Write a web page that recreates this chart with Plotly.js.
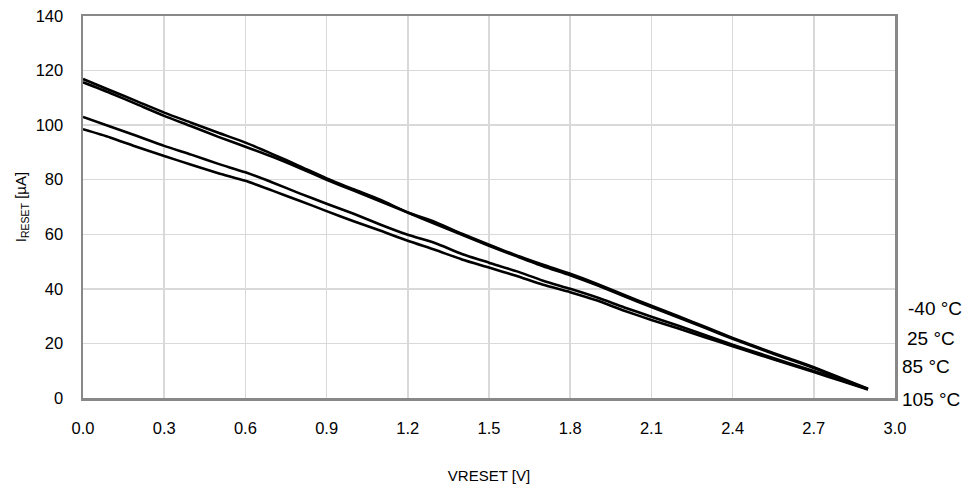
<!DOCTYPE html>
<html>
<head>
<meta charset="utf-8">
<script src="https://cdn.plot.ly/plotly-3.0.1.min.js"></script>
<style>html,body{margin:0;padding:0;background:#fff;}#chart{width:969px;height:487px;}</style>
</head>
<body>
<div id="chart"></div>
<script>
// Voltage (V)
const vreset = [0.0,0.1,0.2,0.3,0.4,0.5,0.6,0.7,0.8,0.9,1.0,1.1,1.2,1.3,1.4,1.5,1.6,1.7,1.8,1.9,2.0,2.1,2.2,2.3,2.4,2.5,2.6,2.7,2.8,2.9];
// Current (uA) per temperature
const iMinus40 = [116.9,112.8,108.7,104.6,100.9,97.2,93.6,89.4,85.0,80.5,76.5,72.6,68.0,64.5,60.2,56.2,52.3,48.8,45.5,41.8,37.8,33.8,30.0,26.0,22.0,18.3,14.8,11.3,7.3,3.4];
const i25 = [115.7,111.8,107.6,103.4,99.6,95.7,92.1,88.4,84.3,80.0,76.0,72.0,68.0,63.8,59.8,55.8,52.0,48.3,45.0,41.3,37.3,33.3,29.5,25.6,21.7,18.0,14.5,11.0,7.1,3.2];
const i85 = [103.0,99.5,96.0,92.4,89.2,85.8,82.7,79.0,75.0,71.2,67.5,63.5,59.8,56.8,52.8,49.6,46.5,43.0,40.0,36.8,33.2,29.8,26.5,23.0,19.5,16.3,13.0,9.9,6.6,3.3];
const i105 = [98.5,95.5,92.0,88.7,85.5,82.4,79.6,76.0,72.3,68.5,64.8,61.3,57.6,54.3,50.8,47.8,44.8,41.5,38.8,35.7,32.0,28.6,25.5,22.2,19.0,15.8,12.6,9.5,6.3,3.1];
const seriesLabels = ['-40 °C','25 °C','85 °C','105 °C'];
const xTickVals = [0.0,0.3,0.6,0.9,1.2,1.5,1.8,2.1,2.4,2.7,3.0];
const yTickVals = [0,20,40,60,80,100,120,140];

const allSeries = [iMinus40, i25, i85, i105];
const traces = allSeries.map((ys, k) => ({
  x: vreset, y: ys, type: 'scatter', mode: 'lines', name: seriesLabels[k],
  line: {color: '#000000', width: 2.6, shape: 'spline', smoothing: 0.6}, hoverinfo: 'skip'
}));

const labelY = [0.233, 0.155, 0.082, -0.004];
const labelX = [1.014, 1.012, 1.006, 1.006];
const annotations = seriesLabels.map((t, k) => ({
  text: t, xref: 'paper', yref: 'paper', x: labelX[k], y: labelY[k],
  xanchor: 'left', yanchor: 'middle', showarrow: false,
  font: {family: 'Liberation Sans, Arial, sans-serif', size: 19, color: '#000'}
}));

const layout = {
  width: 969, height: 487,
  margin: {l: 83, r: 74, t: 16, b: 89},
  paper_bgcolor: '#ffffff', plot_bgcolor: '#ffffff',
  showlegend: false,
  font: {family: 'Liberation Sans, Arial, sans-serif', color: '#000'},
  xaxis: {
    range: [0, 3], tickvals: xTickVals, ticktext: xTickVals.map(v => v.toFixed(1)),
    showgrid: true, gridcolor: '#d9d9d9', gridwidth: 1.5, zeroline: false,
    showline: true, mirror: true, linecolor: '#888888', linewidth: 2.5,
    ticks: 'outside', ticklen: 14, tickcolor: 'rgba(0,0,0,0)',
    tickfont: {size: 16.5, color: '#000'},
    title: {text: 'VRESET [V]', font: {size: 15, color: '#000'}, standoff: 34}
  },
  yaxis: {
    range: [0, 140], tickvals: yTickVals,
    showgrid: true, gridcolor: '#d9d9d9', gridwidth: 1.5, zeroline: false,
    showline: true, mirror: true, linecolor: '#888888', linewidth: 2.5,
    ticks: 'outside', ticklen: 14, tickcolor: 'rgba(0,0,0,0)',
    tickfont: {size: 16.5, color: '#000'},
    title: {text: 'I<sub>RESET</sub> [µA]', font: {size: 15, color: '#000'}, standoff: 6}
  },
  annotations: annotations
};

Plotly.newPlot('chart', traces, layout, {displayModeBar: false, staticPlot: true});
</script>
</body>
</html>
